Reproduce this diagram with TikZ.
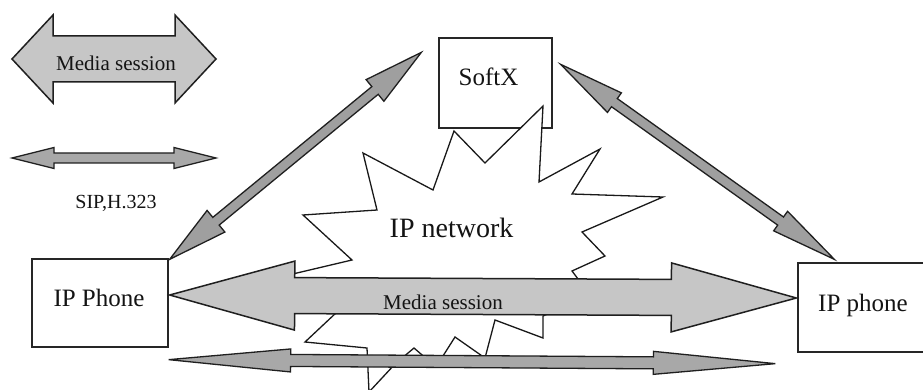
\documentclass[tikz,border=0pt]{standalone}
\usepackage{fontspec}
\setmainfont{Liberation Serif}
\usetikzlibrary{calc}

\tikzset{
  box/.style={draw=black!85, line width=1.3pt, fill=white, inner sep=0pt},
  lbl/.style={anchor=base, inner sep=0pt, text=black!92},
  wide arrow/.style={draw=black!88, line width=1.5pt, fill=gray!45, line join=miter},
  thin arrow/.style={draw=black!88, line width=1.3pt, fill=gray!68, line join=miter},
  slant arrow/.style={draw=black!88, line width=1.3pt, fill=gray!75, line join=miter},
  cloud line/.style={draw=black!90, line width=1.3pt, fill=white, line join=miter},
}

% Double-headed block arrow from #1 to #2:
% #3 head length, #4 head half-width, #5 shaft half-width, #6 style
\newcommand\twoheaded[6]{%
  \coordinate (th1) at ($(#1)!#3!(#2)$);
  \coordinate (th2) at ($(#2)!#3!(#1)$);
  \filldraw[#6] (#1)
    -- ($(th1)!#4!90:(#2)$) -- ($(th1)!#5!90:(#2)$)
    -- ($(th2)!#5!-90:(#1)$) -- ($(th2)!#4!-90:(#1)$)
    -- (#2)
    -- ($(th2)!#4!90:(#1)$) -- ($(th2)!#5!90:(#1)$)
    -- ($(th1)!#5!-90:(#2)$) -- ($(th1)!#4!-90:(#2)$)
    -- cycle;
}

\begin{document}
\begin{tikzpicture}[x=1pt,y=-1pt]
\fill[white] (0,0) rectangle (923,390);
\useasboundingbox (0,0) rectangle (923,390);

% terminals and the soft switch
\node[box, minimum width=113pt, minimum height=90pt] (softx) at (495.5,83) {};
\node[box, minimum width=136pt, minimum height=88pt] (phoneL) at (100,303) {};
\node[box, minimum width=136pt, minimum height=89pt] (phoneR) at (866,307.5) {};

% the IP network cloud (explosion outline)
\draw[cloud line] (303,215) -- (377,210) -- (363,153) -- (433,190) -- (454,131)
  -- (485,163) -- (543,106) -- (539,182) -- (600,149) -- (572,194)
  -- (663,197) -- (582,232) -- (605,256) -- (572,271) -- (590,295)
  -- (543,316) -- (543,338) -- (495,320) -- (485,358) -- (455,337)
  -- (436,367) -- (414,348) -- (395,364) -- (369,392) -- (367,348)
  -- (305,342) -- (337,312) -- (280,277) -- (352,260) -- cycle;
\node[lbl, font=\fontsize{28}{30}\selectfont] (net) at (451.5,237) {IP network};

% legend
\coordinate (lgA) at (12,59);
\coordinate (lgB) at (216,59);
\twoheaded{lgA}{lgB}{41pt}{44pt}{23pt}{wide arrow}
\node[lbl, font=\fontsize{21}{24}\selectfont] (lgmedia) at (116,71) {Media session};
\coordinate (lsA) at (12,158);
\coordinate (lsB) at (216,158);
\twoheaded{lsA}{lsB}{42pt}{10.5pt}{5pt}{thin arrow}
\node[lbl, font=\fontsize{20}{22}\selectfont] (lgsig) at (116,208) {SIP,H.323};

% signalling links
\coordinate (sA) at ($(phoneL.north east)+(1,1)$);
\coordinate (sB) at ($(softx.north west)+(-17,15)$);
\coordinate (sC) at ($(softx.north east)+(8,27)$);
\coordinate (sD) at ($(phoneR.north west)+(37,-3)$);
\twoheaded{sA}{sB}{60pt}{14pt}{5pt}{slant arrow}
\twoheaded{sC}{sD}{66pt}{12pt}{5pt}{slant arrow}

% media session between the phones
\coordinate (mA) at ($(phoneL.east)+(1,-8)$);
\coordinate (mB) at ($(phoneR.west)+(-1,-9.5)$);
\twoheaded{mA}{mB}{125pt}{34.5pt}{18pt}{wide arrow}
\node[lbl, font=\fontsize{21}{24}\selectfont] (media) at (443,309) {Media session};

% signalling between the phones
\coordinate (bA) at ($(phoneL.south east)+(0,12)$);
\coordinate (bB) at ($(phoneR.south west)+(-22,11)$);
\twoheaded{bA}{bB}{122pt}{11.5pt}{6pt}{thin arrow}

% box labels
\node[lbl, font=\fontsize{25}{28}\selectfont] (softxt) at (488.5,86) {SoftX};
\node[lbl, font=\fontsize{25}{28}\selectfont] (phoneLt) at (99,306) {IP Phone};
\node[lbl, font=\fontsize{25}{28}\selectfont] (phoneRt) at (863,311) {IP phone};
\end{tikzpicture}
\end{document}
